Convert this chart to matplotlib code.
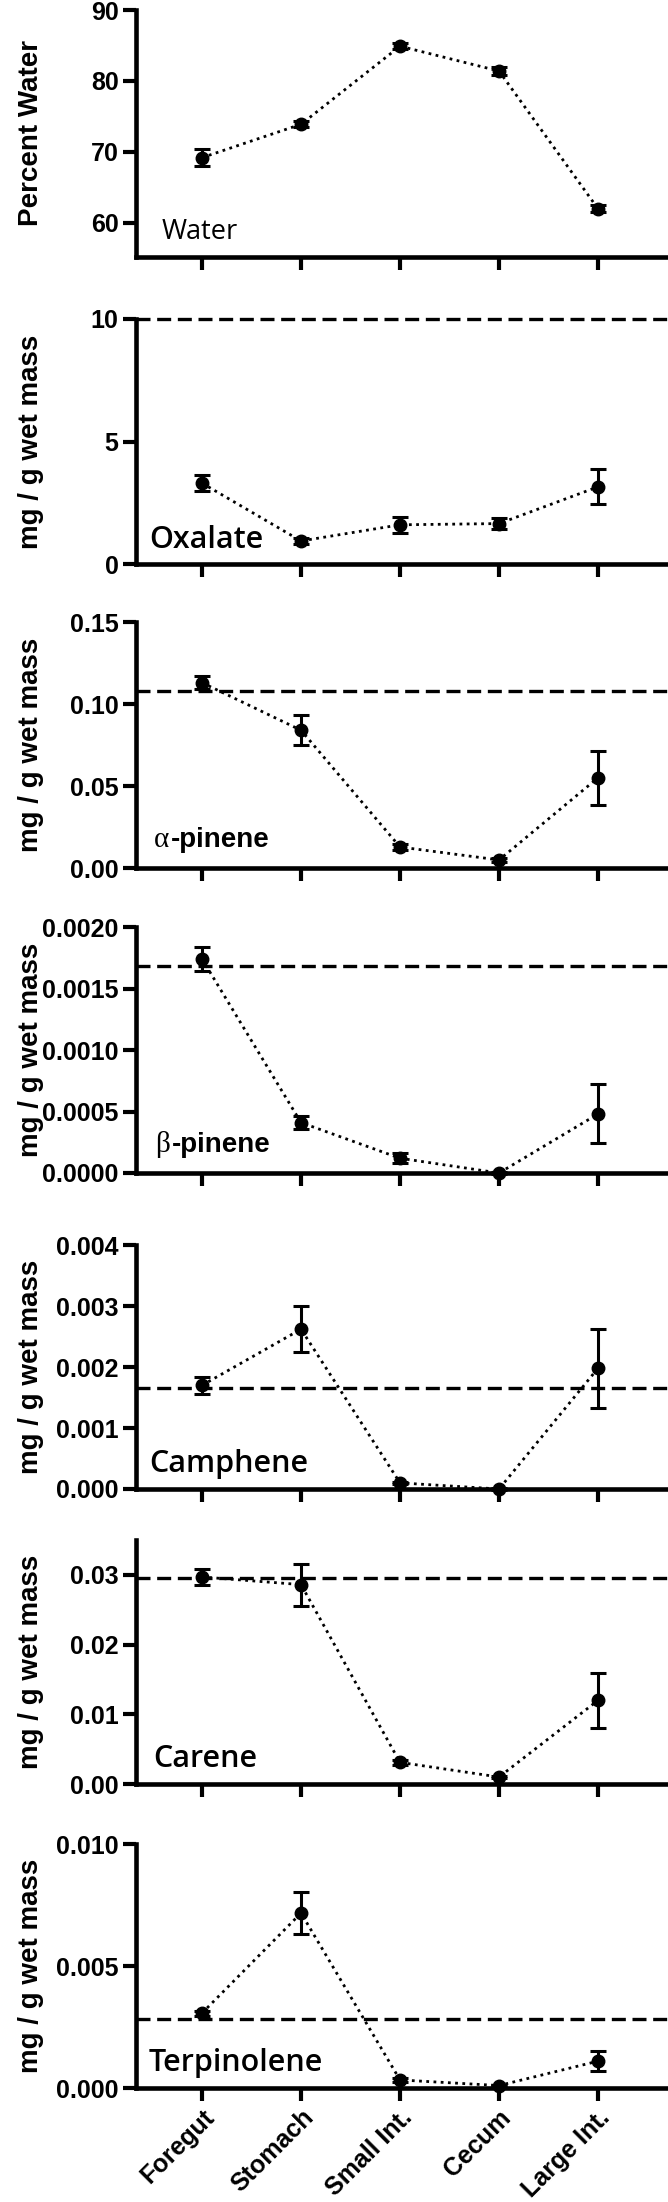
# -*- coding: utf-8 -*-
# Gut contents: water, oxalate and terpene concentrations along the gut

import matplotlib
matplotlib.use('agg')
import matplotlib.pyplot as plt

plt.rcParams['font.family'] = ['Liberation Sans', 'DejaVu Sans']

# Gut sections
sites = ['Foregut', 'Stomach', 'Small Int.', 'Cecum', 'Large Int.']

# Mean and standard error per section, dashed line = diet level
water_mean = [69.2, 73.9, 84.9, 81.4, 62.0]
water_sem = [1.2, 0.4, 0.4, 0.5, 0.5]

oxalate_mean = [3.3, 0.94, 1.6, 1.65, 3.15]
oxalate_sem = [0.32, 0.12, 0.32, 0.22, 0.72]
oxalate_diet = 10.0

apinene_mean = [0.113, 0.084, 0.0128, 0.0049, 0.055]
apinene_sem = [0.004, 0.009, 0.002, 0.001, 0.0165]
apinene_diet = 0.108

bpinene_mean = [0.00174, 0.00041, 0.00012, 0.0, 0.00048]
bpinene_sem = [0.0001, 0.00005, 0.00004, 0.00001, 0.00024]
bpinene_diet = 0.00168

camphene_mean = [0.0017, 0.00262, 0.0001, 0.0, 0.00198]
camphene_sem = [0.00014, 0.00038, 0.00002, 0.00001, 0.00065]
camphene_diet = 0.00166

carene_mean = [0.0297, 0.0286, 0.0031, 0.001, 0.012]
carene_sem = [0.0012, 0.003, 0.0004, 0.0002, 0.0039]
carene_diet = 0.0296

terp_mean = [0.00307, 0.00717, 0.00033, 0.0001, 0.0011]
terp_sem = [0.0001, 0.00086, 0.0001, 0.00003, 0.0004]
terp_diet = 0.00283

# y axes: limits, ticks and tick labels
water_ylim = (55.2, 90)
water_ticks = [60, 70, 80, 90]
water_labels = ['60', '70', '80', '90']
oxalate_ylim = (0, 10)
oxalate_ticks = [0, 5, 10]
oxalate_labels = ['0', '5', '10']
apinene_ylim = (0, 0.15)
apinene_ticks = [0, 0.05, 0.10, 0.15]
apinene_labels = ['0.00', '0.05', '0.10', '0.15']
bpinene_ylim = (0, 0.002)
bpinene_ticks = [0, 0.0005, 0.0010, 0.0015, 0.0020]
bpinene_labels = ['0.0000', '0.0005', '0.0010', '0.0015', '0.0020']
camphene_ylim = (0, 0.004)
camphene_ticks = [0, 0.001, 0.002, 0.003, 0.004]
camphene_labels = ['0.000', '0.001', '0.002', '0.003', '0.004']
carene_ylim = (0, 0.035)
carene_ticks = [0, 0.01, 0.02, 0.03]
carene_labels = ['0.00', '0.01', '0.02', '0.03']
terp_ylim = (0, 0.010)
terp_ticks = [0, 0.005, 0.010]
terp_labels = ['0.000', '0.005', '0.010']

W, H = 668, 2202
fig = plt.figure(figsize=(W / 100, H / 100), dpi=100)
x = list(range(len(sites)))


def panel(top, bottom, mean, sem, diet, ylim, ticks, labels, ylab):
	ax = fig.add_axes([136 / W, 1 - bottom / H, (W - 136) / W, (bottom - top) / H])
	ax.errorbar(x, mean, yerr=sem, color='black', linestyle=(0, (1, 1.6)), linewidth=2.0,
				marker='o', markersize=9, capsize=6, elinewidth=2.2, capthick=2.2,
				clip_on=False, zorder=4)
	if diet is not None:
		ax.axhline(diet, color='black', linewidth=2.4, dashes=(4.2, 2.0), clip_on=False, zorder=2)
	ax.set_xlim(-0.667, 4.707)
	ax.set_ylim(*ylim)
	ax.set_yticks(ticks)
	ax.set_yticklabels(labels, fontsize=18, fontweight='bold')
	ax.set_xticks(x)
	ax.set_xticklabels([])
	for s in ['top', 'right']:
		ax.spines[s].set_visible(False)
	for s in ['left', 'bottom']:
		ax.spines[s].set_linewidth(3.3)
	ax.tick_params(axis='both', direction='out', length=9.5, width=3, pad=3)
	ax.set_ylabel(ylab, fontsize=20, fontweight='bold')
	ax.yaxis.set_label_coords(-0.173, 0.5)
	return ax


def name(ax, xf, yf, txt, size=22, weight='semibold'):
	ax.text(xf, yf, txt, transform=ax.transAxes, fontsize=size, family='Open Sans',
			fontweight=weight, va='baseline', ha='left')


def greek_name(ax, xf, yf, letter, txt):
	ax.text(xf, yf, letter, transform=ax.transAxes, fontsize=21, family='Liberation Serif',
			va='baseline', ha='left')
	ax.annotate(txt, xy=(xf, yf), xycoords='axes fraction', xytext=(12, 0),
				textcoords='offset points', fontsize=20, fontweight='bold', va='baseline', ha='left')


ylab = 'mg / g wet mass'

ax1 = panel(10, 257, water_mean, water_sem, None, water_ylim, water_ticks, water_labels, 'Percent Water')
name(ax1, 0.049, 0.073, 'Water', size=19.5, weight='normal')

ax2 = panel(319, 564, oxalate_mean, oxalate_sem, oxalate_diet, oxalate_ylim, oxalate_ticks, oxalate_labels, ylab)
name(ax2, 0.024, 0.065, 'Oxalate')

ax3 = panel(622, 868, apinene_mean, apinene_sem, apinene_diet, apinene_ylim, apinene_ticks, apinene_labels, ylab)
greek_name(ax3, 0.034, 0.085, u'\u03b1', '-pinene')

ax4 = panel(927, 1173, bpinene_mean, bpinene_sem, bpinene_diet, bpinene_ylim, bpinene_ticks, bpinene_labels, ylab)
greek_name(ax4, 0.036, 0.085, u'\u03b2', '-pinene')

ax5 = panel(1245, 1489, camphene_mean, camphene_sem, camphene_diet, camphene_ylim, camphene_ticks, camphene_labels, ylab)
name(ax5, 0.024, 0.07, 'Camphene')

ax6 = panel(1540, 1784, carene_mean, carene_sem, carene_diet, carene_ylim, carene_ticks, carene_labels, ylab)
name(ax6, 0.032, 0.07, 'Carene')

ax7 = panel(1844, 2088, terp_mean, terp_sem, terp_diet, terp_ylim, terp_ticks, terp_labels, ylab)
name(ax7, 0.024, 0.07, 'Terpinolene')
ax7.set_xticklabels(sites, rotation=45, ha='right', va='top', rotation_mode='anchor',
					fontsize=18, fontweight='bold')

plt.savefig('out.png', dpi=100)
